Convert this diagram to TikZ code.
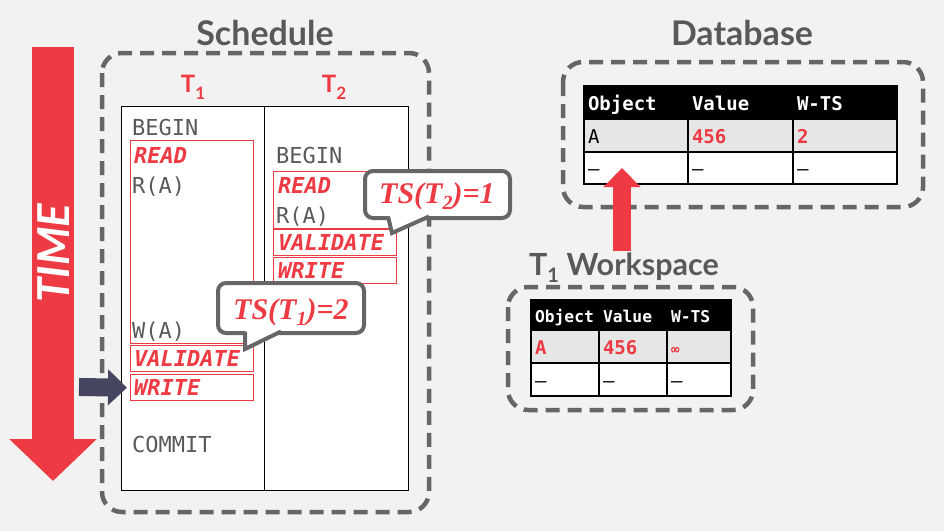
\documentclass[tikz,border=0pt]{standalone}
\usepackage{fontspec}
\setmainfont{Lato}
\newfontfamily\monof{DejaVu Sans Mono}
\newfontfamily\serifb{Liberation Serif}
\usetikzlibrary{arrows.meta}
\definecolor{myred}{HTML}{EE3B43}
\definecolor{tgray}{HTML}{595959}
\definecolor{dgray}{HTML}{666666}
\definecolor{bgc}{HTML}{F2F2F2}
\definecolor{navy}{HTML}{45455F}
\definecolor{rowg}{HTML}{E6E6E6}
\begin{document}
\begin{tikzpicture}[x=1pt,y=-1pt,
  dbox/.style={draw=dgray, line width=4.5pt, dash pattern=on 14pt off 8pt, rounded corners=20pt},
  ttl/.style={font=\fontsize{34}{40}\selectfont\bfseries, text=tgray, inner sep=0pt},
  thdr/.style={font=\fontsize{24}{28}\selectfont\bfseries, text=myred, inner sep=0pt, anchor=base},
  sched/.style={font=\monof\fontsize{22}{24}\selectfont, text=tgray, anchor=base west, inner sep=0pt},
  phase/.style={font=\monof\bfseries\itshape\fontsize{22}{24}\selectfont, text=myred, anchor=base west, inner sep=0pt},
  rbox/.style={draw=myred, line width=1.4pt, anchor=north west, inner sep=0pt},
  coshape/.style={draw=dgray, fill=white, line width=4pt, rounded corners=8pt},
  cotail/.style={draw=dgray, line width=4pt, line join=miter},
  cotext/.style={font=\serifb\bfseries\itshape\fontsize{30}{32}\selectfont, text=myred, anchor=base west, inner sep=0pt},
  dbc/.style={draw=black, line width=1.3pt, inner xsep=4pt, inner ysep=0pt, align=left, minimum height=33pt, text height=15pt, text depth=0pt, font=\monof\fontsize{19}{22}\selectfont},
  dbh/.style={dbc, fill=black, text=white, font=\monof\bfseries\fontsize{19}{22}\selectfont},
  wsc/.style={draw=black, line width=1.3pt, inner xsep=4pt, inner ysep=0pt, align=left, minimum height=33pt, text height=15pt, text depth=0pt, font=\monof\fontsize{19}{22}\selectfont},
  wsh/.style={wsc, minimum height=30pt, text height=14pt, fill=black, text=white, font=\monof\bfseries\fontsize{16.3}{20}\selectfont},
  wsr/.style={wsc, fill=rowg, text=myred, font=\monof\bfseries\fontsize{19}{22}\selectfont},
  ]
\fill[bgc] (0,0) rectangle (944,531);
\useasboundingbox (0,0) rectangle (944,531);

% ---------- TIME arrow
\coordinate (ts) at (53,47);
\coordinate (te) at (53,481);
\draw[myred, line width=42pt, -{Triangle[length=42pt,width=85pt]}] (ts) -- (te);
\node[rotate=90, text=white, inner sep=0pt, font=\fontsize{44}{46}\selectfont\bfseries\itshape] (timet) at (54,253) {TIME};

% ---------- Schedule
\node[ttl] (schedt) at (265,33) {Schedule};
\draw[dbox] (102,53) rectangle (429,512);
\node[thdr] (t1h) at (193,92) {T\raisebox{-7pt}{\fontsize{17}{17}\selectfont 1}};
\node[thdr] (t2h) at (334,92) {T\raisebox{-7pt}{\fontsize{17}{17}\selectfont 2}};
\node[draw=black, line width=1pt, fill=white, minimum width=143pt, minimum height=384pt, anchor=north west, inner sep=0pt] (col1) at (121,106) {};
\node[draw=black, line width=1pt, fill=white, minimum width=144pt, minimum height=384pt, anchor=north west, inner sep=0pt] (col2) at (264,106) {};

% red phase boxes
\node[rbox, minimum width=123pt, minimum height=203pt] (rb1) at (130,140) {};
\node[rbox, minimum width=123pt, minimum height=26pt] (vb1) at (130,345) {};
\node[rbox, minimum width=123pt, minimum height=26pt] (wb1) at (130,374) {};
\node[rbox, minimum width=123pt, minimum height=57pt] (rb2) at (273,171) {};
\node[rbox, minimum width=123pt, minimum height=26pt] (vb2) at (273,229) {};
\node[rbox, minimum width=123pt, minimum height=26pt] (wb2) at (273,257) {};

% T1 column text
\node[sched] (b1) at (132,135) {BEGIN};
\node[phase] (rd1) at (134,163) {READ};
\node[sched] (ra1) at (132,193) {R(A)};
\node[sched] (wa1) at (132,338) {W(A)};
\node[phase] (va1) at (134,366) {VALIDATE};
\node[phase] (wr1) at (134,395) {WRITE};
\node[sched] (cm1) at (132,452) {COMMIT};
% T2 column text
\node[sched] (b2) at (276,163) {BEGIN};
\node[phase] (rd2) at (278,193) {READ};
\node[sched] (ra2) at (276,223) {R(A)};
\node[phase] (va2) at (278,250) {VALIDATE};
\node[phase] (wr2) at (278,278) {WRITE};

% navy pointer arrow
\coordinate (na) at (79,387);
\draw[navy, line width=18pt, -{Triangle[length=19pt,width=35pt]}] (na) -- ([xshift=-3pt]wb1.west);

% callout TS(T2)=1
\draw[coshape] (365,171) rectangle (510,218);
\fill[white] (389,214) -- (426,214) -- (427,218) -- (392,233) -- (388,218) -- cycle;
\draw[cotail] (388,216.5) -- (392,233) -- (429,216.5);
\node[cotext] (ts2) at (379,203) {TS(T\raisebox{-6pt}{\fontsize{20}{20}\selectfont 2})=1};

% callout TS(T1)=2
\draw[coshape] (218,283) rectangle (364,333);
\fill[white] (246,329) -- (277,329) -- (278,333) -- (245,349) -- (245,333) -- cycle;
\draw[cotail] (245,331.5) -- (245,349) -- (281,331.5);
\node[cotext] (ts1) at (233,319) {TS(T\raisebox{-6pt}{\fontsize{20}{20}\selectfont 1})=2};

% ---------- Database
\node[ttl] (dbt) at (742,33) {Database};
\draw[dbox] (563,62) rectangle (923,207);
\node[dbh, minimum width=104pt, text width=96pt] (dh1) at (636,102.5) {Object};
\node[dbh, minimum width=105pt, text width=97pt] (dh2) at (740.5,102.5) {Value};
\node[dbh, minimum width=104pt, text width=96pt] (dh3) at (845,102.5) {W-TS};
\node[dbc, fill=rowg, minimum width=104pt, text width=96pt] (d11) at (636,135.5) {A};
\node[dbc, fill=rowg, minimum width=105pt, text width=97pt, text=myred, font=\monof\bfseries\fontsize{19}{22}\selectfont] (d12) at (740.5,135.5) {456};
\node[dbc, fill=rowg, minimum width=104pt, text width=96pt, text=myred, font=\monof\bfseries\fontsize{19}{22}\selectfont] (d13) at (845,135.5) {2};
\node[dbc, fill=white, minimum width=104pt, minimum height=32pt, text width=96pt] (d21) at (636,168) {–};
\node[dbc, fill=white, minimum width=105pt, minimum height=32pt, text width=97pt] (d22) at (740.5,168) {–};
\node[dbc, fill=white, minimum width=104pt, minimum height=32pt, text width=96pt] (d23) at (845,168) {–};

% ---------- T1 Workspace
\node[ttl, font=\fontsize{30.5}{36}\selectfont\bfseries, anchor=base] (wst) at (624,275) {T\raisebox{-7pt}{\fontsize{20}{20}\selectfont 1} Workspace};
\draw[dbox] (508,287) rectangle (753,410);
\node[wsh, minimum width=68pt, text width=60pt] (wh1) at (565,315) {Object};
\node[wsh, minimum width=68pt, text width=60pt] (wh2) at (633,315) {Value};
\node[wsh, minimum width=64pt, text width=56pt] (wh3) at (699,315) {W-TS};
\node[wsr, minimum width=68pt, text width=60pt] (w11) at (565,346.5) {A};
\node[wsr, minimum width=68pt, text width=60pt] (w12) at (633,346.5) {456};
\node[wsr, minimum width=64pt, text width=56pt, font=\monof\bfseries\fontsize{14}{18}\selectfont] (w13) at (699,346.5) {∞};
\node[wsc, fill=white, minimum width=68pt, text width=60pt] (w21) at (565,379.5) {–};
\node[wsc, fill=white, minimum width=68pt, text width=60pt] (w22) at (633,379.5) {–};
\node[wsc, fill=white, minimum width=64pt, text width=56pt] (w23) at (699,379.5) {–};

% red up arrow workspace -> database
\coordinate (ua) at (622,251);
\coordinate (ub) at (622,168);
\draw[myred, line width=18pt, -{Triangle[length=19pt,width=36pt]}] (ua) -- (ub);
\end{tikzpicture}
\end{document}
